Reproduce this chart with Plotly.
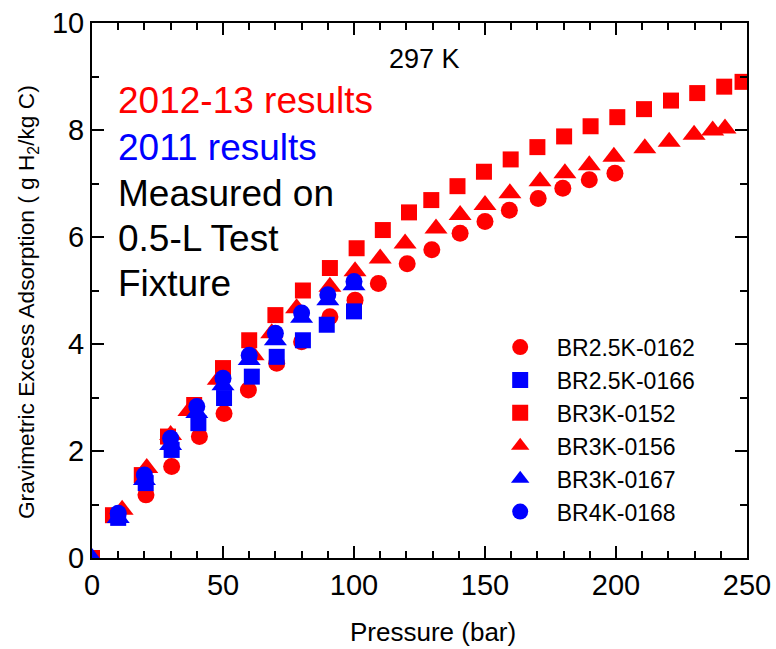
import plotly.graph_objects as go

FONT = "Liberation Sans, Arial, sans-serif"

# BR2.5K-0162 (red circles)
p_0162 = [20.6, 30.4, 41, 50.4, 59.7, 70.5, 80, 90.8, 100.4, 109.3, 120.3, 129.7, 140.5, 150, 159.3, 170.3, 179.7, 189.8, 199.6]
q_0162 = [1.18, 1.71, 2.27, 2.70, 3.14, 3.64, 4.04, 4.51, 4.82, 5.13, 5.50, 5.76, 6.07, 6.29, 6.50, 6.72, 6.91, 7.07, 7.19]

# BR2.5K-0166 (blue squares)
p_0166 = [10, 20.5, 30.4, 40.6, 50.4, 61, 70.5, 80.5, 89.6, 100]
q_0166 = [0.75, 1.40, 2.02, 2.52, 2.99, 3.39, 3.76, 4.07, 4.36, 4.61]

# BR3K-0152 (red squares)
p_0152 = [0, 8, 19, 29, 39, 50, 60, 70, 80.5, 90.8, 101, 111, 121, 129.5, 139.5, 149.6, 159.8, 170, 180.2, 190.3, 200.5, 210.7, 221, 231, 241.3, 248.3]
q_0152 = [0, 0.80, 1.55, 2.27, 2.86, 3.55, 4.07, 4.54, 5.00, 5.42, 5.79, 6.13, 6.46, 6.69, 6.95, 7.22, 7.45, 7.68, 7.88, 8.07, 8.24, 8.39, 8.55, 8.69, 8.81, 8.90]

# BR3K-0156 (red triangles)
p_0156 = [11.5, 20.9, 30, 37, 48.2, 61.5, 68.6, 78.1, 90.8, 100.4, 110, 119.5, 131.3, 140.5, 150, 159.5, 171, 180.5, 189.8, 199.2, 211, 220.3, 229.8, 236.9, 241.6]
q_0156 = [0.90, 1.68, 2.30, 2.75, 3.33, 3.79, 4.20, 4.67, 5.07, 5.36, 5.60, 5.88, 6.16, 6.41, 6.60, 6.82, 7.04, 7.19, 7.34, 7.50, 7.66, 7.78, 7.91, 7.99, 8.03]

# BR3K-0167 (blue triangles)
p_0167 = [0, 10, 20, 30, 40, 50, 60, 70, 80, 90, 100]
q_0167 = [0, 0.75, 1.46, 2.11, 2.71, 3.23, 3.70, 4.07, 4.49, 4.82, 5.10]

# BR4K-0168 (blue circles)
p_0168 = [10, 20, 30, 40, 50, 60, 70, 80, 90, 100]
q_0168 = [0.835, 1.55, 2.24, 2.83, 3.36, 3.79, 4.20, 4.58, 4.92, 5.17]

RED = "#ff0000"
BLUE = "#0000ff"

# (name, x, y, color, symbol, size, legend rank) in drawing order
series = [
    ("BR3K-0152", p_0152, q_0152, RED, "square", 16, 3),
    ("BR3K-0156", p_0156, q_0156, RED, "triangle-up", 20, 4),
    ("BR2.5K-0162", p_0162, q_0162, RED, "circle", 17, 1),
    ("BR2.5K-0166", p_0166, q_0166, BLUE, "square", 16, 2),
    ("BR3K-0167", p_0167, q_0167, BLUE, "triangle-up", 20, 5),
    ("BR4K-0168", p_0168, q_0168, BLUE, "circle", 17, 6),
]

fig = go.Figure()
for name, xs, ys, col, sym, sz, rank in series:
    fig.add_trace(go.Scatter(
        x=xs, y=ys, mode="markers", name=name, legendrank=rank,
        marker=dict(color=col, symbol=sym, size=sz, line=dict(width=0)),
    ))

axis_common = dict(
    showline=True, linewidth=2, linecolor="black", mirror="ticks",
    ticks="inside", ticklen=12, tickwidth=2, tickcolor="black",
    showgrid=False, zeroline=False, automargin=False,
    tickfont=dict(family=FONT, size=29, color="black"),
)

fig.update_xaxes(
    range=[0, 250], dtick=50, tick0=0,
    minor=dict(dtick=10, ticks="inside", ticklen=7, tickwidth=1.5, tickcolor="black", showgrid=False),
    **axis_common,
)
fig.update_yaxes(
    range=[0, 10], dtick=2, tick0=0,
    minor=dict(dtick=1, ticks="inside", ticklen=7, tickwidth=1.5, tickcolor="black", showgrid=False),
    **axis_common,
)

# axis titles
fig.add_annotation(text="Pressure (bar)", x=0.52, y=-0.1383, xref="paper", yref="paper",
                   xanchor="center", yanchor="middle", showarrow=False,
                   font=dict(family=FONT, size=26, color="black"))
fig.add_annotation(text="Gravimetric Excess Adsorption ( g H<sub>2</sub>/kg C)",
                   x=-0.0992, y=0.4785, xref="paper", yref="paper", textangle=-90,
                   xanchor="center", yanchor="middle", showarrow=False,
                   font=dict(family=FONT, size=22.7, color="black"))

texts = [
    ("297 K", 0.507, 0.9335, "black", 27, "center"),
    ("2012-13 results", 0.037, 0.8545, RED, 37, "left"),
    ("2011 results", 0.037, 0.7665, BLUE, 37, "left"),
    ("Measured on", 0.037, 0.6805, "black", 37, "left"),
    ("0.5-L Test", 0.037, 0.5965, "black", 37, "left"),
    ("Fixture", 0.037, 0.514, "black", 37, "left"),
]
for t, x, y, c, s, anc in texts:
    fig.add_annotation(text=t, x=x, y=y, xref="paper", yref="paper",
                       xanchor=anc, yanchor="middle", showarrow=False,
                       font=dict(family=FONT, size=s, color=c))

fig.update_layout(
    width=776, height=649,
    margin=dict(l=92, r=29, t=23, b=91),
    paper_bgcolor="white", plot_bgcolor="white",
    showlegend=True,
    legend=dict(x=0.598, y=0.4344, xanchor="left", yanchor="top",
                font=dict(family=FONT, size=23, color="black"),
                bgcolor="rgba(0,0,0,0)", itemwidth=63, tracegroupgap=0),
    font=dict(family=FONT),
)

fig.write_html("out.html")
